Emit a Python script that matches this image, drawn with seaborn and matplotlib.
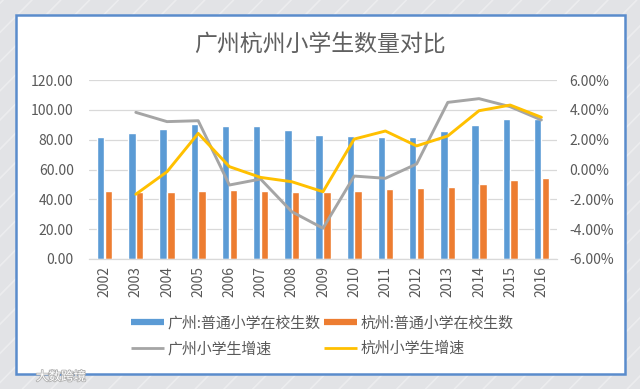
import numpy as np
import pandas as pd
import matplotlib
matplotlib.use("Agg")
import matplotlib.pyplot as plt
from matplotlib.lines import Line2D
from matplotlib.patches import Rectangle
from matplotlib.ticker import FuncFormatter, FixedLocator
import matplotlib.patheffects as pe
import seaborn as sns

# ---------------- data ----------------
years = ["2002", "2003", "2004", "2005", "2006", "2007", "2008", "2009",
         "2010", "2011", "2012", "2013", "2014", "2015", "2016"]
gz_students = [81.6, 84.7, 87.4, 90.5, 89.4, 88.9, 86.2, 83.1,
               82.5, 82.0, 82.0, 85.8, 90.1, 93.6, 94.1]
hz_students = [45.8, 44.9, 44.7, 45.8, 46.3, 45.8, 45.1, 44.7,
               45.8, 46.9, 47.6, 48.5, 50.5, 52.7, 54.3]
gz_growth = [np.nan, 3.83, 3.21, 3.27, -1.04, -0.64, -2.83, -3.94,
             -0.44, -0.59, 0.37, 4.50, 4.75, 4.21, 3.32]
hz_growth = [np.nan, -1.66, -0.15, 2.42, 0.19, -0.53, -0.82, -1.49,
             2.04, 2.58, 1.58, 2.25, 3.94, 4.32, 3.50]
series_bar = ["广州:普通小学在校生数", "杭州:普通小学在校生数"]
series_line = ["广州小学生增速", "杭州小学生增速"]
title = "广州杭州小学生数量对比"
left_ticks = [0, 20, 40, 60, 80, 100, 120]
right_ticks = [-6, -4, -2, 0, 2, 4, 6]

c_blue, c_orange, c_gray, c_yellow = "#5b9bd5", "#ed7d31", "#a5a5a5", "#ffc000"
txt = "#595959"

sns.set_theme(style="white")
plt.rcParams["font.family"] = ["Noto Sans CJK SC", "DejaVu Sans"]

bars = pd.DataFrame({
    "year": years * 2,
    "value": gz_students + hz_students,
    "series": [series_bar[0]] * len(years) + [series_bar[1]] * len(years),
})

fig = plt.figure(figsize=(6.4, 3.89), dpi=100)
fig.patch.set_facecolor("#e2e3e6")

# background stripes + white panel
for k in np.arange(-1.0, 1.6, 0.045):
    fig.add_artist(Line2D([k, k + 0.6], [0, 1], transform=fig.transFigure,
                          color="white", alpha=0.35, lw=1.2, zorder=-3))
fig.add_artist(Rectangle((16 / 640, 1 - 374 / 389), (625 - 16) / 640, (374 - 15) / 389,
                         transform=fig.transFigure, facecolor="white",
                         edgecolor="#5a8ccc", lw=1.8, zorder=-2))

ax = fig.add_axes([89 / 640, 1 - 259 / 389, (557 - 89) / 640, (259 - 80) / 389])
ax.set_facecolor("none")
sns.barplot(data=bars, x="year", y="value", hue="series", order=years,
            palette=[c_blue, c_orange], width=0.5, gap=0.07, ax=ax,
            legend=False, saturation=1, zorder=2)
ax.set_xlim(-0.5, len(years) - 0.5)
ax.set_ylim(0, 120)
ax.yaxis.set_major_locator(FixedLocator(left_ticks))
ax.yaxis.set_major_formatter(FuncFormatter(lambda v, p: f"{v:.2f}"))
ax.grid(axis="y", color="#d9d9d9", lw=0.9, zorder=0)
ax.set_axisbelow(True)
for s in ["top", "right", "left"]:
    ax.spines[s].set_visible(False)
ax.spines["bottom"].set_color("#d9d9d9")
ax.spines["bottom"].set_linewidth(0.9)
ax.set_xlabel("")
ax.set_ylabel("")
ax.tick_params(axis="y", length=0, pad=11, labelsize=10, labelcolor=txt)
ax.tick_params(axis="x", length=0, pad=5, labelsize=10, labelcolor=txt, labelrotation=90)
ax.set_xticks(np.arange(len(years)), years)
ax.set_xticks(np.arange(-0.5, len(years)), minor=True)
ax.tick_params(axis="x", which="minor", length=4, width=0.9, color="#d9d9d9")

ax2 = ax.twinx()
xs = np.arange(len(years))
sns.lineplot(x=xs, y=gz_growth, color=c_gray, lw=2.1, ax=ax2)
sns.lineplot(x=xs, y=hz_growth, color=c_yellow, lw=2.1, ax=ax2)
ax2.set_ylim(-6, 6)
ax2.yaxis.set_major_locator(FixedLocator(right_ticks))
ax2.yaxis.set_major_formatter(FuncFormatter(lambda v, p: f"{v:.2f}%"))
for s in ax2.spines.values():
    s.set_visible(False)
ax2.tick_params(axis="y", length=0, pad=9, labelsize=10, labelcolor=txt)
ax2.set_ylabel("")
ax2.grid(False)

fig.text(0.5, 1 - 44 / 389, title, ha="center", va="center", fontsize=16.5, color="#606060")

handles = [
    Line2D([], [], color=c_blue, lw=4.5, solid_capstyle="butt"),
    Line2D([], [], color=c_gray, lw=2.0, solid_capstyle="butt"),
    Line2D([], [], color=c_orange, lw=4.5, solid_capstyle="butt"),
    Line2D([], [], color=c_yellow, lw=2.0, solid_capstyle="butt"),
]
labels = [series_bar[0], series_line[0], series_bar[1], series_line[1]]
leg = fig.legend(handles, labels, ncol=2, loc="center left",
                 bbox_to_anchor=(118 / 640, 1 - 336 / 389), frameon=False,
                 fontsize=10.75, handlelength=2.2, handletextpad=0.2,
                 columnspacing=0.27, labelspacing=0.72, labelcolor=txt)

fig.text(36 / 640, 1 - 377 / 389, "大数跨境", fontsize=9, color="white",
         ha="left", va="center",
         path_effects=[pe.withStroke(linewidth=1.2, foreground="#b0b0b0")])

fig.savefig("out.png", dpi=100)
